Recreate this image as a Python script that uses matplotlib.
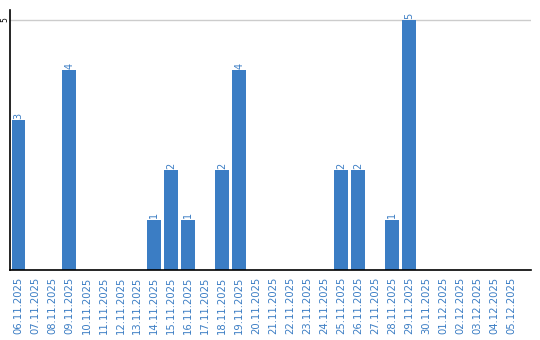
import matplotlib
matplotlib.use('Agg')
import matplotlib.pyplot as plt
import numpy as np

# ── Data ──────────────────────────────────────────────
dates = ['06.11.2025', '07.11.2025', '08.11.2025', '09.11.2025', '10.11.2025',
         '11.11.2025', '12.11.2025', '13.11.2025', '14.11.2025', '15.11.2025',
         '16.11.2025', '17.11.2025', '18.11.2025', '19.11.2025', '20.11.2025',
         '21.11.2025', '22.11.2025', '23.11.2025', '24.11.2025', '25.11.2025',
         '26.11.2025', '27.11.2025', '28.11.2025', '29.11.2025', '30.11.2025',
         '01.12.2025', '02.12.2025', '03.12.2025', '04.12.2025', '05.12.2025']
counts = [3, 0, 0, 4, 0, 0, 0, 0, 1, 2,
          1, 0, 2, 4, 0, 0, 0, 0, 0, 2,
          2, 0, 1, 5, 0, 0, 0, 0, 0, 0]

BLUE = '#3b7dc4'

fig = plt.figure(figsize=(5.4, 3.4), dpi=100)
ax = fig.add_axes([10 / 540, 70 / 340, 521 / 540, 260 / 340])

x = np.arange(len(dates))
ax.bar(x, counts, width=0.82, color=BLUE, zorder=2)

for xi, v in zip(x, counts):
    if v > 0:
        ax.text(xi, v + 0.03, str(v), rotation=90, ha='center', va='bottom',
                fontsize=7, color=BLUE)

ax.set_xlim(-0.5, 30.18)
ax.set_ylim(0, 5.2)
ax.set_yticks([5])
ax.set_yticklabels(['5'], rotation=90, va='center', fontsize=5.5)
ax.set_xticks(x)
ax.set_xticklabels(dates, rotation=90, fontsize=7.2, color=BLUE)
ax.tick_params(axis='x', length=0, pad=5)
ax.tick_params(axis='y', length=0, pad=0.5)
ax.grid(axis='y', color='#cccccc', linewidth=1, zorder=0)

for s in ['top', 'right']:
    ax.spines[s].set_visible(False)
ax.spines['left'].set_linewidth(1.2)
ax.spines['bottom'].set_linewidth(1.2)

fig.savefig('out.png', dpi=100)
